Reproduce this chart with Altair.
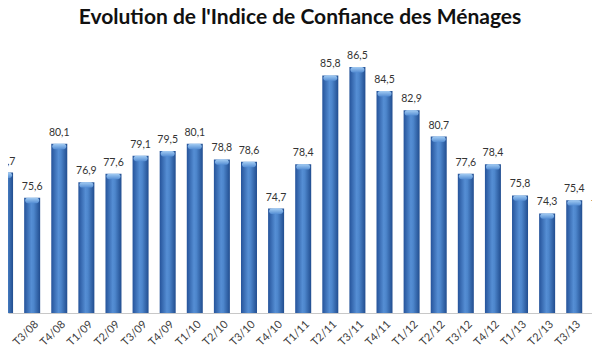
import altair as alt
import pandas as pd

categories = ["T2/08", "T3/08", "T4/08", "T1/09", "T2/09", "T3/09", "T4/09",
              "T1/10", "T2/10", "T3/10", "T4/10", "T1/11", "T2/11", "T3/11",
              "T4/11", "T1/12", "T2/12", "T3/12", "T4/12", "T1/13", "T2/13",
              "T3/13", "T4/13"]
values = [77.7, 75.6, 80.1, 76.9, 77.6, 79.1, 79.5, 80.1, 78.8, 78.6, 74.7,
          78.4, 85.8, 86.5, 84.5, 82.9, 80.7, 77.6, 78.4, 75.8, 74.3, 75.4, 74.1]

df = pd.DataFrame({
    "i": list(range(len(categories))),
    "cat": categories,
    "v": values,
    "label": [f"{v:.1f}".replace(".", ",") for v in values],
})

names_js = "[" + ",".join(f"'{c}'" for c in categories) + "]"

x_scale = alt.Scale(domain=[0.293, 21.471], nice=False, zero=False)
y_scale = alt.Scale(domain=[66, 88], nice=False, zero=False)

x_axis = alt.Axis(values=list(range(len(categories))),
                  labelExpr=f"{names_js}[datum.value]",
                  labelAngle=-45, labelAlign="right", labelBaseline="top",
                  labelFontSize=11, labelFont="Lato", labelColor="#404040",
                  labelPadding=5, labelOverlap=False, labelFlush=False,
                  labelBound=False, labelSeparation=0,
                  ticks=False, grid=False, domainColor="#c8c8c8")
x_enc = alt.X("i:Q", scale=x_scale, title=None, axis=x_axis)
y_enc = alt.Y("v:Q", scale=y_scale, axis=None)

grad = alt.Gradient(
    gradient="linear", x1=0, x2=1, y1=0, y2=0,
    stops=[alt.GradientStop(offset=0, color="#25539a"),
           alt.GradientStop(offset=0.45, color="#558ed4"),
           alt.GradientStop(offset=0.6, color="#4d86cc"),
           alt.GradientStop(offset=1, color="#214d8f")],
)
cap_grad = alt.Gradient(
    gradient="linear", x1=0, x2=0, y1=0, y2=1,
    stops=[alt.GradientStop(offset=0, color="#a3ccf3"),
           alt.GradientStop(offset=1, color="#558ed4")],
)

base = alt.Chart(df)

bars = base.mark_bar(size=16, clip=True, color=grad).encode(
    x=x_enc, y=y_enc, y2=alt.datum(66),
)

caps = base.transform_calculate(vlow="datum.v - 0.45").mark_bar(
    size=14, clip=True, color=cap_grad, cornerRadius=3
).encode(
    x=x_enc, y=y_enc, y2="vlow:Q",
)

text = base.mark_text(
    baseline="bottom", dy=-6, fontSize=10.5, font="Lato", color="#333333"
).encode(
    x=x_enc, y=y_enc, text="label:N",
)

chart = alt.layer(bars, caps, text).properties(
    width=584, height=264,
    autosize=alt.AutoSizeParams(type="none"),
    padding={"top": 41, "left": 0, "right": 0, "bottom": 38},
    title=alt.Title(
        "Evolution de l'Indice de Confiance des Ménages",
        fontSize=21, font="Lato", fontWeight="bold", color="#111111",
        anchor="middle", frame="group", baseline="alphabetic", offset=4,
    ),
).configure_view(stroke=None)

chart.save("out.html", embed_options={"renderer": "svg", "actions": False})
